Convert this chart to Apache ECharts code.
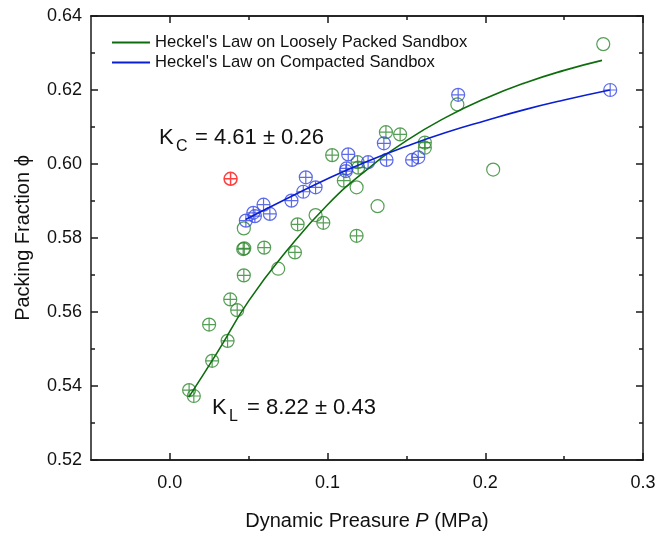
<!DOCTYPE html>
<html lang="en">
<head>
<meta charset="utf-8">
<script src="https://cdn.jsdelivr.net/npm/echarts@6/dist/echarts.min.js"></script>
<style>html,body{margin:0;padding:0;background:#fff}</style>
</head>
<body>
<div id="main" style="width:661px;height:537px"></div>
<script type="text/javascript">
// loosely packed sandbox, crossed circles
var looseCross = [
    [0.0122,0.5389],[0.0152,0.5373],[0.0268,0.5468],[0.0249,0.5566],[0.0366,0.5522],
    [0.0427,0.5605],[0.0383,0.5634],[0.0469,0.5699],[0.0465,0.5770],[0.0472,0.5772],
    [0.0598,0.5774],[0.0793,0.5761],[0.0810,0.5837],[0.0973,0.5841],[0.1029,0.6024],
    [0.1103,0.5955],[0.1190,0.6005],[0.1194,0.5990],[0.1184,0.5806],[0.1370,0.6086],
    [0.1460,0.6080],[0.1617,0.6058],[0.1617,0.6044]
];
// loosely packed sandbox, open circles
var looseOpen = [
    [0.0469,0.5826],[0.0687,0.5717],[0.0924,0.5862],[0.1184,0.5937],
    [0.1317,0.5886],[0.1823,0.6161],[0.2050,0.5985],[0.2748,0.6324]
];
// compacted sandbox
var compact = [
    [0.0482,0.5847],[0.0529,0.5868],[0.0539,0.5859],[0.0594,0.5890],[0.0634,0.5865],
    [0.0771,0.5901],[0.0846,0.5925],[0.0862,0.5964],[0.0924,0.5937],[0.1116,0.5981],
    [0.1120,0.5988],[0.1131,0.6026],[0.1257,0.6005],[0.1357,0.6056],[0.1374,0.6011],
    [0.1536,0.6011],[0.1575,0.6018],[0.1828,0.6187],[0.2792,0.6200]
];
var outlier = [[0.0385,0.5960]];

// fitted curves
var fitLooseP = [0.012,0.03,0.05,0.075,0.1,0.125,0.15,0.175,0.2,0.225,0.25,0.274];
var fitLoosePhi = [0.537,0.549,0.563,0.577,0.589,0.5985,0.6063,0.6126,0.6177,0.6219,0.6253,0.628];
var fitCompP = [0.048,0.075,0.1,0.125,0.15,0.175,0.2,0.225,0.25,0.279];
var fitCompPhi = [0.585,0.5908,0.596,0.6007,0.6048,0.6085,0.6117,0.6147,0.6173,0.620];

var xMajor = [0, 0.1, 0.2, 0.3];
var xMinor = [0.05, 0.15, 0.25];

function pairs(xs, ys){ var out=[]; for (var i=0;i<xs.length;i++) out.push([xs[i],ys[i]]); return out; }

var FONT = 'Arial, "Liberation Sans", sans-serif';
var GREEN_L = '#0d6d0d', GREEN_M = '#2b862b';
var BLUE_L = '#0a1ed2', BLUE_M = '#3546e2';
var AX = '#1a1a1a';
var CROSS = 'path://M10,0 A10,10 0 1 1 -10,0 A10,10 0 1 1 10,0 Z M-10,0 L10,0 M0,-10 L0,10';

function xAx(pos, ticks, len, labels){
    return {
        type:'value', position:pos, min:-0.05, max:0.3, interval:0.05,
        axisLine:{show:true, onZero:false, lineStyle:{color:AX, width:1.5}},
        axisTick:{show:true, inside:true, length:len, customValues:ticks, lineStyle:{color:AX, width:1.5}},
        axisLabel:labels ? {show:true, customValues:xMajor, margin:14, color:'#111', fontSize:18, fontFamily:FONT,
            formatter:function(v){ return v.toFixed(1); }} : {show:false},
        splitLine:{show:false}
    };
}
function yAx(pos, labels){
    return {
        type:'value', position:pos, min:0.52, max:0.64, interval:0.02,
        axisLine:{show:true, onZero:false, lineStyle:{color:AX, width:1.5}},
        axisTick:{show:true, inside:true, length:7, lineStyle:{color:AX, width:1.5}},
        minorTick:{show:true, splitNumber:2, length:4, lineStyle:{color:AX, width:1.5}},
        axisLabel:labels ? {show:true, margin:9, color:'#111', fontSize:18, fontFamily:FONT,
            formatter:function(v){ return v.toFixed(2); }} : {show:false},
        splitLine:{show:false}
    };
}

var xMain = xAx('bottom', xMajor, 7, true);
xMain.name = '{a|Dynamic Preasure }{b|P}{a| (MPa)}';
xMain.nameLocation = 'middle';
xMain.nameGap = 51;
xMain.nameTextStyle = {rich:{a:{fontSize:20, fontFamily:FONT, color:'#111'}, b:{fontSize:20, fontFamily:FONT, fontStyle:'italic', color:'#111'}}};

var yMain = yAx('left', true);
yMain.name = 'Packing Fraction \u03d5';
yMain.nameLocation = 'middle';
yMain.nameGap = 58;
yMain.nameTextStyle = {fontSize:20, fontFamily:FONT, color:'#111'};

var myChart = echarts.init(document.getElementById('main'));
var option = {
    animation:false,
    backgroundColor:'#fff',
    grid:{left:91, right:18, top:16, bottom:77, containLabel:false},
    legend:{
        left:106, top:28, orient:'vertical', itemWidth:38, itemHeight:14, itemGap:1,
        itemStyle:{opacity:0},
        textStyle:{fontSize:16.6, lineHeight:19, fontFamily:FONT, color:'#111'},
        data:["Heckel's Law on Loosely Packed Sandbox","Heckel's Law on Compacted Sandbox"]
    },
    xAxis:[xMain, xAx('bottom', xMinor, 4, false), xAx('top', xMajor, 7, false), xAx('top', xMinor, 4, false)],
    yAxis:[yMain, yAx('right', false)],
    graphic:[
        {type:'text', left:159, top:127, style:{text:'K', fontSize:22, fontFamily:FONT, fill:'#111'}},
        {type:'text', left:176, top:139, style:{text:'C', fontSize:16, fontFamily:FONT, fill:'#111'}},
        {type:'text', left:195, top:127, style:{text:'= 4.61 \u00b1 0.26', fontSize:22, fontFamily:FONT, fill:'#111'}},
        {type:'text', left:212, top:397, style:{text:'K', fontSize:22, fontFamily:FONT, fill:'#111'}},
        {type:'text', left:229, top:409, style:{text:'L', fontSize:16, fontFamily:FONT, fill:'#111'}},
        {type:'text', left:247, top:397, style:{text:'= 8.22 \u00b1 0.43', fontSize:22, fontFamily:FONT, fill:'#111'}}
    ],
    series:[
        {name:'loose-open', type:'scatter', data:looseOpen, symbol:'circle', symbolSize:13,
            itemStyle:{color:'rgba(0,0,0,0)', borderColor:GREEN_M, borderWidth:1.2}},
        {name:'loose-cross', type:'scatter', data:looseCross, symbol:CROSS, symbolSize:13,
            itemStyle:{color:'rgba(0,0,0,0)', borderColor:GREEN_M, borderWidth:1.2}},
        {name:'compact', type:'scatter', data:compact, symbol:CROSS, symbolSize:13,
            itemStyle:{color:'rgba(0,0,0,0)', borderColor:BLUE_M, borderWidth:1.2}},
        {name:'outlier', type:'scatter', data:outlier, symbol:CROSS, symbolSize:13,
            itemStyle:{color:'rgba(0,0,0,0)', borderColor:'#ff1010', borderWidth:1.5}},
        {name:"Heckel's Law on Loosely Packed Sandbox", type:'line', data:pairs(fitLooseP, fitLoosePhi),
            smooth:true, symbol:'none', lineStyle:{color:GREEN_L, width:1.6}, itemStyle:{color:GREEN_L}},
        {name:"Heckel's Law on Compacted Sandbox", type:'line', data:pairs(fitCompP, fitCompPhi),
            smooth:true, symbol:'none', lineStyle:{color:BLUE_L, width:1.6}, itemStyle:{color:BLUE_L}}
    ]
};
myChart.setOption(option);
</script>
</body>
</html>
